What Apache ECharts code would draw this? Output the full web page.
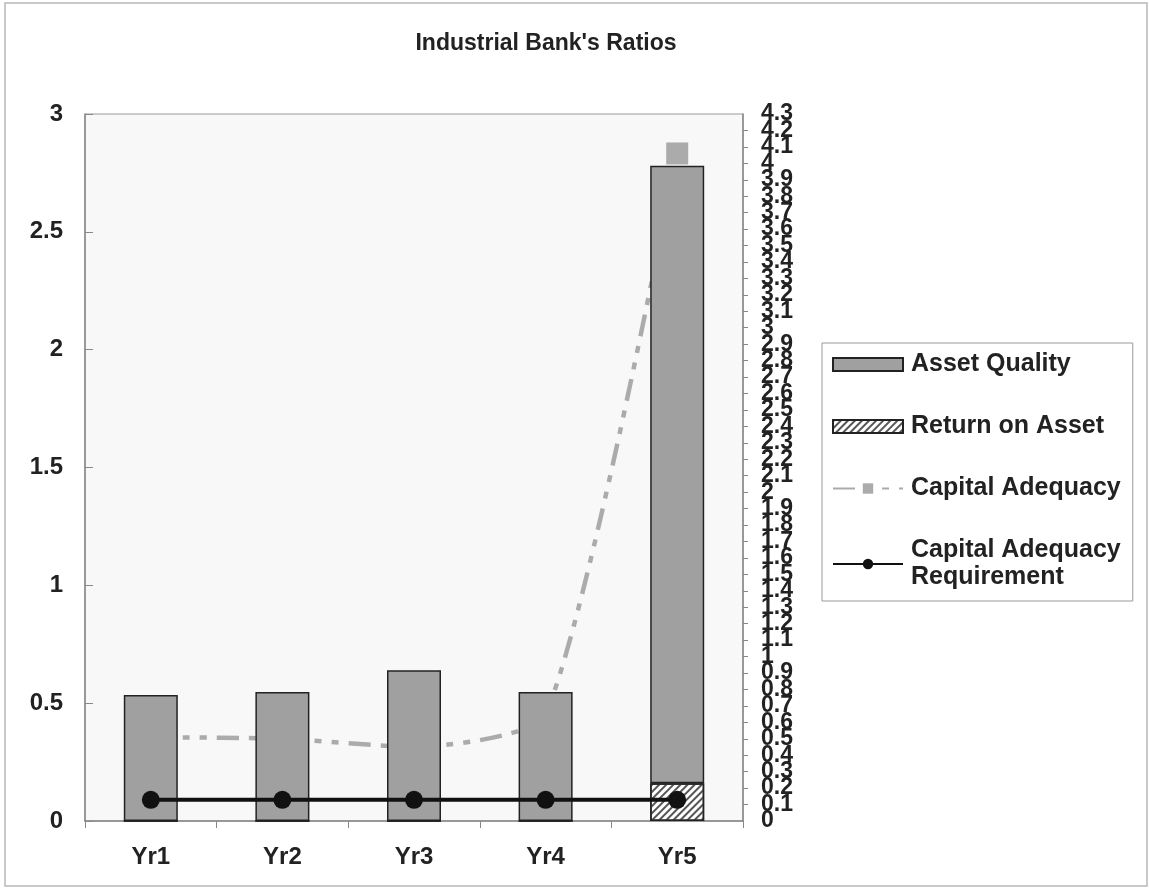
<!DOCTYPE html>
<html>
<head>
<meta charset="utf-8">
<title>Industrial Bank's Ratios</title>
<script src="https://cdn.jsdelivr.net/npm/echarts@6/dist/echarts.min.js"></script>
<style>
    html, body { margin: 0; padding: 0; background: #fff; }
    #chart { width: 1150px; height: 891px; }
</style>
</head>
<body>
<div id="chart"></div>
<script type="text/javascript">
    // categories and values
    var years = ['Yr1', 'Yr2', 'Yr3', 'Yr4', 'Yr5'];
    var assetQuality = [0.535, 0.547, 0.64, 0.547, 2.62];
    var returnOnAsset = [0, 0, 0, 0, 0.16];
    var capitalAdequacy = [0.51, 0.5, 0.45, 0.65, 4.06];       // right axis
    var capitalAdequacyReq = [0.09, 0.09, 0.09, 0.09, 0.09];    // left axis

    var chart = echarts.init(document.getElementById('chart'));

    var labelFont = {fontFamily: 'Liberation Sans, Arial, sans-serif', fontWeight: 'bold', color: '#222'};
    var rightLabel = Object.assign({fontSize: 23, lineHeight: 14, margin: 18, hideOverlap: false}, labelFont);

    chart.setOption({
        animation: false,
        title: {
            text: "Industrial Bank's Ratios",
            left: 541,
            top: 27,
            textAlign: 'center',
            textStyle: {fontFamily: 'Liberation Sans, Arial, sans-serif', fontWeight: 'bold', fontSize: 23, color: '#222'}
        },
        graphic: [{
            type: 'rect',
            shape: {x: 5, y: 3, width: 1142, height: 883},
            style: {fill: 'none', stroke: '#b8b8b8', lineWidth: 1.5},
            silent: true
        }],
        legend: {
            orient: 'vertical',
            left: 822,
            top: 343,
            padding: [8, 12, 10, 10],
            borderColor: '#999',
            borderWidth: 1,
            backgroundColor: '#fff',
            itemWidth: 70,
            itemHeight: 13,
            itemGap: 35,
            textStyle: {fontFamily: 'Liberation Sans, Arial, sans-serif', fontWeight: 'bold', fontSize: 25, color: '#222', lineHeight: 27, padding: [0, 0, 0, 3]},
            data: [
                {name: 'Asset Quality', icon: 'rect'},
                {name: 'Return on Asset', icon: 'rect'},
                'Capital Adequacy',
                'Capital Adequacy\nRequirement'
            ]
        },
        grid: {
            left: 85,
            right: 407,
            top: 114,
            bottom: 70,
            show: true,
            backgroundColor: '#f8f8f8',
            borderColor: '#999',
            borderWidth: 1
        },
        xAxis: {
            type: 'category',
            data: years,
            axisLine: {lineStyle: {color: '#888', width: 1.5}},
            axisTick: {show: true, length: 7, lineStyle: {color: '#888'}},
            axisLabel: Object.assign({fontSize: 24, margin: 24}, labelFont)
        },
        yAxis: [
            {
                type: 'value',
                min: 0,
                max: 3,
                interval: 0.5,
                splitLine: {show: false},
                axisLine: {show: true, lineStyle: {color: '#888', width: 1.5}},
                axisTick: {show: true, inside: true, length: 8, lineStyle: {color: '#888'}},
                axisLabel: Object.assign({fontSize: 24, margin: 22}, labelFont)
            },
            {
                type: 'value',
                min: 0,
                max: 4.3,
                interval: 0.1,
                position: 'right',
                splitLine: {show: false},
                axisLine: {show: true, lineStyle: {color: '#888', width: 1.5}},
                axisTick: {show: true, length: 5, lineStyle: {color: '#888'}},
                // end labels come from the next axis, so the overlap check drops nothing here
                axisLabel: Object.assign({showMinLabel: false, showMaxLabel: false}, rightLabel)
            },
            {
                // same scale, only the 0 and 4.3 labels
                type: 'value',
                min: 0,
                max: 4.3,
                interval: 4.3,
                position: 'right',
                splitLine: {show: false},
                axisLine: {show: false},
                axisTick: {show: false},
                axisLabel: rightLabel
            }
        ],
        series: [
            {
                name: 'Return on Asset',
                type: 'bar',
                stack: 'bars',
                barWidth: 54,
                z: 3,
                data: returnOnAsset,
                itemStyle: {
                    color: '#fff',
                    borderColor: '#222',
                    borderWidth: 1.5,
                    decal: {
                        symbol: 'rect',
                        symbolSize: 1,
                        color: '#555',
                        dashArrayX: [1, 0],
                        dashArrayY: [1.5, 3],
                        rotation: -Math.PI / 4
                    }
                }
            },
            {
                name: 'Asset Quality',
                type: 'bar',
                stack: 'bars',
                barWidth: 54,
                z: 3,
                data: assetQuality,
                itemStyle: {color: '#a0a0a0', borderColor: '#222', borderWidth: 1.5}
            },
            {
                name: 'Capital Adequacy',
                type: 'line',
                yAxisIndex: 1,
                smooth: 0.2,
                z: 2,
                data: capitalAdequacy,
                symbol: 'rect',
                symbolSize: 22,
                lineStyle: {color: '#ababab', width: 4.5, type: [22, 10, 7, 10, 7, 10]},
                itemStyle: {color: '#ababab'}
            },
            {
                name: 'Capital Adequacy\nRequirement',
                type: 'line',
                z: 4,
                data: capitalAdequacyReq,
                symbol: 'circle',
                symbolSize: 18,
                lineStyle: {color: '#111', width: 4},
                itemStyle: {color: '#111'}
            }
        ]
    });
</script>
</body>
</html>
